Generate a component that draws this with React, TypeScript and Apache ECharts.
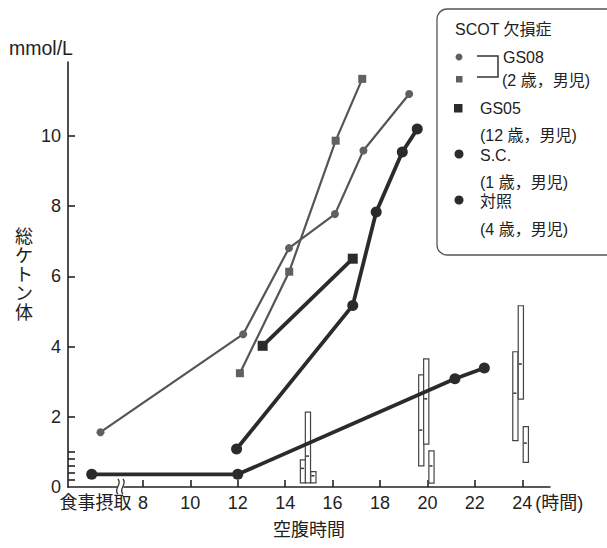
import React, { useEffect, useRef } from "react";
import * as echarts from "echarts";

const FONT = '"Liberation Sans", Arial, "Noto Sans CJK JP", sans-serif';

// X positions in hours (food intake placed left of the axis break)
const gs08CircleX = [6.21, 12.23, 14.16, 16.1, 17.3, 19.23];
const gs08CircleY = [1.56, 4.35, 6.8, 7.77, 9.58, 11.19];
const gs08SquareX = [12.09, 14.17, 16.13, 17.25];
const gs08SquareY = [3.24, 6.13, 9.86, 11.62];
const gs05X = [13.05, 16.85];
const gs05Y = [4.02, 6.5];
const scX = [11.95, 16.85, 17.84, 18.94, 19.57];
const scY = [1.08, 5.17, 7.83, 9.54, 10.19];
const controlX = [5.84, 12.0, 21.16, 22.4];
const controlY = [0.36, 0.36, 3.08, 3.39];

// range bars: x, low, median, high
const rangeX = [14.75, 14.96, 15.19, 19.74, 19.95, 20.17, 23.71, 23.94, 24.15];
const rangeLow = [0.12, 0.12, 0.12, 0.6, 1.22, 0.11, 1.32, 2.5, 0.7];
const rangeMid = [0.53, 0.88, 0.32, 1.62, 2.51, 0.6, 2.67, 3.5, 1.25];
const rangeHigh = [0.77, 2.13, 0.44, 3.19, 3.65, 1.03, 3.85, 5.16, 1.72];

const xTickValues = [8, 10, 12, 14, 16, 18, 20, 22, 24];
const foodX = 6.0;
const foodLabel = "食事摂取";
const yTickValues = [0.2, 0.4, 0.6, 0.8, 1.0, 2, 4, 6, 8, 10];
const yLabelValues = [0, 2, 4, 6, 8, 10];

const zip = (xs: number[], ys: number[]) => xs.map((x, i) => [x, ys[i]]);

export default function App() {
  const ref = useRef<HTMLDivElement>(null);
  useEffect(() => {
    document.body.style.margin = "0";
    const chart = echarts.init(ref.current!, null, { renderer: "svg" });
    const thin = "#555";
    const dark = "#2b2b2b";
    const option: any = {
      animation: false,
      backgroundColor: "#fff",
      grid: { left: 68, top: 62, right: 57, bottom: 61 },
      xAxis: {
        type: "value",
        min: 4.84,
        max: 25.17,
        splitLine: { show: false },
        axisLine: { lineStyle: { color: "#222", width: 1.6 } },
        axisTick: { customValues: xTickValues, inside: true, length: 7, lineStyle: { color: "#222", width: 1.6 } },
        axisLabel: {
          customValues: [foodX, ...xTickValues],
          formatter: (v: number) => (Math.abs(v - foodX) < 0.01 ? foodLabel : String(v)),
          margin: 7,
          fontSize: 18,
          fontFamily: FONT,
          color: "#222",
        },
        name: "空腹時間",
        nameLocation: "middle",
        nameGap: 34,
        nameTextStyle: { fontSize: 18, fontFamily: FONT, color: "#222" },
      },
      yAxis: {
        type: "value",
        min: 0,
        max: 12.1,
        splitLine: { show: false },
        axisLine: { show: true, lineStyle: { color: "#222", width: 1.6 } },
        axisTick: { show: true, customValues: yTickValues, inside: true, length: 7, lineStyle: { color: "#222", width: 1.6 } },
        axisLabel: { customValues: yLabelValues, margin: 7, fontSize: 18, fontFamily: FONT, color: "#222" },
      },
      series: [
        {
          type: "custom",
          z: 1,
          data: rangeX.map((x, i) => [x, rangeLow[i], rangeMid[i], rangeHigh[i]]),
          encode: { x: 0, y: [1, 2, 3] },
          renderItem: (params: any, api: any) => {
            const x = api.value(0);
            const lo = api.coord([x, api.value(1)]);
            const md = api.coord([x, api.value(2)]);
            const hi = api.coord([x, api.value(3)]);
            return {
              type: "group",
              children: [
                {
                  type: "rect",
                  shape: { x: lo[0] - 2.6, y: hi[1], width: 5.2, height: lo[1] - hi[1] },
                  style: { fill: "#fff", stroke: "#444", lineWidth: 1.2 },
                },
                {
                  type: "line",
                  shape: { x1: md[0] - 2, y1: md[1], x2: md[0] + 1, y2: md[1] },
                  style: { stroke: "#333", lineWidth: 1.5 },
                },
              ],
            };
          },
        },
        {
          name: "GS08a",
          type: "line",
          z: 3,
          data: zip(gs08CircleX, gs08CircleY),
          symbol: "circle",
          symbolSize: 8,
          itemStyle: { color: "#606060" },
          lineStyle: { color: thin, width: 2.2 },
        },
        {
          name: "GS08b",
          type: "line",
          z: 3,
          data: zip(gs08SquareX, gs08SquareY),
          symbol: "rect",
          symbolSize: 8,
          itemStyle: { color: "#606060" },
          lineStyle: { color: thin, width: 2.2 },
        },
        {
          name: "GS05",
          type: "line",
          z: 4,
          data: zip(gs05X, gs05Y),
          symbol: "rect",
          symbolSize: 10,
          itemStyle: { color: dark },
          lineStyle: { color: dark, width: 3.8 },
        },
        {
          name: "S.C.",
          type: "line",
          z: 4,
          data: zip(scX, scY),
          symbol: "circle",
          symbolSize: 11,
          itemStyle: { color: dark },
          lineStyle: { color: dark, width: 3.8 },
        },
        {
          name: "対照",
          type: "line",
          z: 4,
          data: zip(controlX, controlY),
          symbol: "circle",
          symbolSize: 11,
          itemStyle: { color: dark },
          lineStyle: { color: dark, width: 3.8 },
        },
      ],
    };
    chart.setOption(option);

    const brk = chart.convertToPixel({ xAxisIndex: 0, yAxisIndex: 0 }, [7.05, 0]) as number[];
    const t24 = chart.convertToPixel({ xAxisIndex: 0, yAxisIndex: 0 }, [24, 0]) as number[];
    const wave = (cx: number) => ({
      type: "bezierCurve",
      shape: { x1: cx, y1: brk[1] - 8, cpx1: cx + 5, cpy1: brk[1] - 3, cpx2: cx - 5, cpy2: brk[1] + 2, x2: cx, y2: brk[1] + 7 },
      style: { stroke: "#333", lineWidth: 1.3, fill: null },
    });
    const txt = (text: string, x: number, y: number, size = 16, align = "left") => ({
      type: "text",
      x,
      y,
      style: { text, fontSize: size, lineHeight: size, fontFamily: FONT, fill: "#222", align, verticalAlign: "middle" },
      z: 20,
    });
    chart.setOption({
      graphic: [
        { type: "rect", shape: { x: brk[0] - 3, y: brk[1] - 2, width: 6, height: 4 }, style: { fill: "#fff" }, z: 15 },
        { ...wave(brk[0] - 2.5), z: 16 },
        { ...wave(brk[0] + 2.5), z: 16 },
        txt("(時間)", t24[0] + 13, t24[1] + 16, 18),
        txt("mmol/L", 9, 48, 19.5),
        {
          type: "text",
          x: 24,
          y: 275,
          style: { text: "総\nケ\nト\nン\n体", fontSize: 18, lineHeight: 19, fontFamily: FONT, fill: "#222", align: "center", verticalAlign: "middle" },
        },
        { type: "rect", shape: { x: 437, y: 9, width: 200, height: 246, r: 10 }, style: { fill: "#fff", stroke: "#555", lineWidth: 1.3 }, z: 18 },
        txt("SCOT 欠損症", 455, 29),
        { type: "circle", shape: { cx: 459, cy: 57, r: 3.5 }, style: { fill: "#606060" }, z: 20 },
        { type: "rect", shape: { x: 456, y: 76, width: 6.5, height: 6.5 }, style: { fill: "#606060" }, z: 20 },
        {
          type: "polyline",
          shape: { points: [[477, 56], [498, 56], [498, 77], [477, 77]] },
          style: { stroke: "#333", lineWidth: 1.5, fill: null },
          z: 20,
        },
        txt("GS08", 503, 57),
        txt("(2 歳，男児)", 502, 80),
        { type: "rect", shape: { x: 454, y: 104, width: 8.5, height: 8.5 }, style: { fill: dark }, z: 20 },
        txt("GS05", 480, 108),
        txt("(12 歳，男児)", 480, 135),
        { type: "circle", shape: { cx: 459, cy: 154, r: 4.5 }, style: { fill: dark }, z: 20 },
        txt("S.C.", 480, 155),
        txt("(1 歳，男児)", 480, 182),
        { type: "circle", shape: { cx: 459, cy: 200, r: 4.5 }, style: { fill: dark }, z: 20 },
        txt("対照", 480, 201),
        txt("(4 歳，男児)", 480, 229),
      ],
    });
    return () => chart.dispose();
  }, []);
  return <div ref={ref} style={{ width: 607, height: 548 }} />;
}
